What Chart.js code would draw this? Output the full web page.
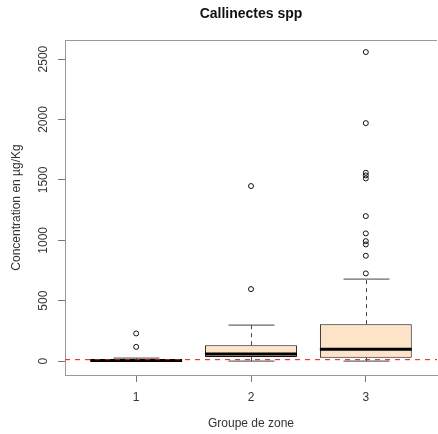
<!DOCTYPE html>
<html lang="fr">
<head>
<meta charset="UTF-8">
<title>Callinectes spp</title>
<script src="https://cdn.jsdelivr.net/npm/chart.js"></script>
<style>
  html, body { margin: 0; padding: 0; background: #fff; overflow: hidden; }
  #boite { width: 442px; height: 434px; }
</style>
</head>
<body>
<div id="boite"><canvas id="graphique" width="442" height="434"></canvas></div>
<script>
// Groupes de zone et statistiques des boîtes (µg/Kg)
const groupes = [1, 2, 3];
const q1 = [0, 33, 28];
const mediane = [5, 58, 99];
const q3 = [12, 132, 306];
const moustacheBas = [0, 0, 0];
const moustacheHaut = [25, 298, 679];
// valeurs extrêmes de chaque groupe
const extremes = [
  [229, 118],
  [1449, 596],
  [2558, 1970, 1559, 1537, 1512, 1200, 1057, 993, 966, 872, 726]
];
const ticksY = [0, 500, 1000, 1500, 2000, 2500];
const seuil = 12;

const police = 'Liberation Sans, Arial, sans-serif';

const pointsExtremes = [];
extremes.forEach((liste, i) => {
  liste.forEach(v => pointsExtremes.push({ x: groupes[i], y: v }));
});

// moustaches, médianes, cadre, graduations verticales et ligne de seuil
const boitesPlugin = {
  id: 'boites',
  afterDatasetsDraw(chart) {
    const ctx = chart.ctx;
    const y = chart.scales.y;
    const area = chart.chartArea;
    const barres = chart.getDatasetMeta(0).data;
    ctx.save();
    barres.forEach((barre, i) => {
      const x = Math.round(barre.x) + 0.5;
      const demi = barre.width / 2;
      const yHaut = y.getPixelForValue(moustacheHaut[i]);
      const yBas = y.getPixelForValue(moustacheBas[i]);
      const yQ1 = y.getPixelForValue(q1[i]);
      const yQ3 = y.getPixelForValue(q3[i]);

      // moustaches en tirets
      ctx.strokeStyle = '#444';
      ctx.lineWidth = 1;
      ctx.setLineDash([4, 4]);
      ctx.beginPath();
      ctx.moveTo(x, yQ3);
      ctx.lineTo(x, yHaut);
      ctx.moveTo(x, yQ1);
      ctx.lineTo(x, yBas);
      ctx.stroke();

      // bornes des moustaches
      ctx.setLineDash([]);
      ctx.beginPath();
      ctx.moveTo(x - demi / 2, yHaut);
      ctx.lineTo(x + demi / 2, yHaut);
      ctx.moveTo(x - demi / 2, yBas);
      ctx.lineTo(x + demi / 2, yBas);
      ctx.stroke();

      // médiane épaisse
      ctx.strokeStyle = '#000';
      ctx.lineWidth = 3;
      ctx.beginPath();
      const yMed = y.getPixelForValue(mediane[i]);
      ctx.moveTo(barre.x - demi, yMed);
      ctx.lineTo(barre.x + demi, yMed);
      ctx.stroke();
    });

    // cadre supérieur
    ctx.strokeStyle = '#999';
    ctx.lineWidth = 1;
    ctx.beginPath();
    ctx.moveTo(area.left, area.top + 0.5);
    ctx.lineTo(area.right, area.top + 0.5);
    ctx.stroke();

    // étiquettes de l'axe vertical, écrites parallèlement à l'axe
    ctx.fillStyle = '#333';
    ctx.font = '12px ' + police;
    ctx.textAlign = 'center';
    ctx.textBaseline = 'middle';
    ticksY.forEach(v => {
      ctx.save();
      ctx.translate(44, y.getPixelForValue(v));
      ctx.rotate(-Math.PI / 2);
      ctx.fillText(String(v), 0, 0);
      ctx.restore();
    });
    ctx.save();
    ctx.translate(17, (area.top + area.bottom) / 2);
    ctx.rotate(-Math.PI / 2);
    ctx.fillText('Concentration en µg/Kg', 0, 0);
    ctx.restore();

    // seuil en pointillés rouges
    const ySeuil = y.getPixelForValue(seuil);
    ctx.strokeStyle = '#e01818';
    ctx.lineWidth = 1;
    ctx.setLineDash([5, 5]);
    ctx.beginPath();
    ctx.moveTo(area.left, ySeuil);
    ctx.lineTo(area.right, ySeuil);
    ctx.stroke();
    ctx.restore();
  }
};

new Chart(document.getElementById('graphique'), {
  type: 'scatter',
  data: {
    datasets: [
      {
        type: 'bar',
        data: groupes.map((g, i) => ({ x: g, y: [q1[i], q3[i]] })),
        backgroundColor: '#fde4c8',
        borderColor: '#111',
        borderWidth: 1,
        borderSkipped: false,
        barPercentage: 1,
        categoryPercentage: 0.8
      },
      {
        type: 'scatter',
        data: pointsExtremes,
        showLine: false,
        pointStyle: 'circle',
        pointRadius: 2.5,
        borderWidth: 1,
        borderColor: '#111',
        backgroundColor: 'rgba(0,0,0,0)'
      }
    ]
  },
  options: {
    responsive: false,
    animation: false,
    layout: { padding: 0 },
    plugins: {
      legend: { display: false },
      tooltip: { enabled: false },
      title: {
        display: true,
        text: 'Callinectes spp',
        fullSize: false,
        color: '#111',
        font: { family: police, size: 14, weight: 'bold' },
        padding: { top: 6, bottom: 17.2 }
      }
    },
    scales: {
      x: {
        type: 'linear',
        min: 0.38,
        max: 3.62,
        offset: false,
        afterBuildTicks: s => { s.ticks = groupes.map(v => ({ value: v })); },
        afterFit: s => { s.height = 59; },
        grid: { drawOnChartArea: false, drawTicks: true, tickLength: 7, tickColor: '#777', offset: false },
        border: { color: '#999' },
        ticks: { color: '#333', font: { family: police, size: 12 }, padding: 8, callback: v => String(v) },
        title: {
          display: true,
          text: 'Groupe de zone',
          color: '#333',
          font: { family: police, size: 12 },
          padding: { top: 0, bottom: 2.8 }
        }
      },
      y: {
        type: 'linear',
        min: -115,
        max: 2658,
        afterBuildTicks: s => { s.ticks = ticksY.map(v => ({ value: v })); },
        afterFit: s => { s.width = 65; },
        grid: { drawOnChartArea: false, drawTicks: true, tickLength: 7, tickColor: '#777' },
        border: { color: '#999' },
        ticks: { display: false }
      }
    }
  },
  plugins: [boitesPlugin]
});
</script>
</body>
</html>
